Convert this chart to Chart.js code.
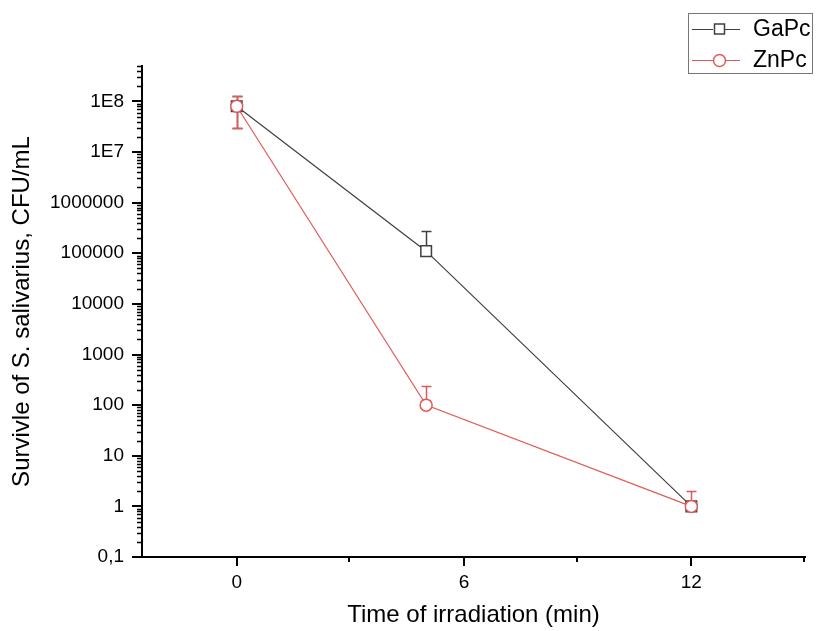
<!DOCTYPE html>
<html>
<head>
<meta charset="utf-8">
<script src="https://cdn.jsdelivr.net/npm/chart.js@4"></script>
<style>
  html, body { margin: 0; padding: 0; background: #fff; }
  #wrap { width: 817px; height: 631px; position: relative; }
</style>
</head>
<body>
<div id="wrap"><canvas id="survival"></canvas></div>
<script>
// Survival data, CFU/mL vs irradiation time
const timePoints = [0, 5, 12];
const gaPcValues = [8e7, 1.1e5, 1];
const znPcValues = [8e7, 100, 1];
const gaPcErrUp = [1.3e8, 2.7e5, null];
const gaPcErrDown = [3e7, null, null];
const znPcErrUp = [1.3e8, 240, 2];
const znPcErrDown = [3e7, null, null];

// Axis ticks
const xMajorTicks = [0, 6, 12];
const xMinorTicks = [3, 9, 15];
const yMajorTicks = [0.1, 1, 10, 100, 1000, 10000, 100000, 1000000, 1e7, 1e8];
const yTickLabels = ['0,1', '1', '10', '100', '1000', '10000', '100000', '1000000', '1E7', '1E8'];

const GA_COLOR = '#404040';
const ZN_COLOR = '#e05a5a';
const FONT = '"Liberation Sans", Arial, sans-serif';

// Origin-style outward ticks (major + minor)
const tickMarks = {
    id: 'tickMarks',
    afterDraw(chart) {
        const ctx = chart.ctx;
        const x = chart.scales.x, y = chart.scales.y;
        const area = chart.chartArea;
        ctx.save();
        ctx.strokeStyle = '#000';
        ctx.lineWidth = 2;
        ctx.beginPath();
        xMajorTicks.forEach(v => {
            const px = Math.round(x.getPixelForValue(v));
            ctx.moveTo(px, area.bottom); ctx.lineTo(px, area.bottom + 9);
        });
        xMinorTicks.forEach(v => {
            const px = Math.round(x.getPixelForValue(v)) - 1;
            ctx.moveTo(px, area.bottom); ctx.lineTo(px, area.bottom + 5);
        });
        yMajorTicks.forEach(v => {
            const py = Math.round(y.getPixelForValue(v));
            ctx.moveTo(area.left, py); ctx.lineTo(area.left - 10, py);
        });
        ctx.stroke();
        ctx.lineWidth = 1.5;
        ctx.beginPath();
        for (let d = -1; d <= 8; d++) {
            for (let m = 2; m <= 9; m++) {
                const v = m * Math.pow(10, d);
                if (v > y.max) break;
                const py = Math.round(y.getPixelForValue(v)) + 0.5;
                ctx.moveTo(area.left, py); ctx.lineTo(area.left - 5, py);
            }
        }
        ctx.stroke();
        ctx.restore();
    }
};

// Error bars with caps, drawn from the marker edge outward
const errorBars = {
    id: 'errorBars',
    afterDatasetsDraw(chart) {
        const ctx = chart.ctx;
        const x = chart.scales.x, y = chart.scales.y;
        const sets = [
            { vals: gaPcValues, up: gaPcErrUp, down: gaPcErrDown, color: GA_COLOR },
            { vals: znPcValues, up: znPcErrUp, down: znPcErrDown, color: ZN_COLOR }
        ];
        ctx.save();
        ctx.lineWidth = 1.5;
        sets.forEach(s => {
            ctx.strokeStyle = s.color;
            timePoints.forEach((t, i) => {
                const px = Math.round(x.getPixelForValue(t)) + 0.5;
                const py = y.getPixelForValue(s.vals[i]);
                ctx.beginPath();
                if (s.up[i] != null) {
                    const ey = Math.round(y.getPixelForValue(s.up[i])) + 0.5;
                    ctx.moveTo(px, py - 6); ctx.lineTo(px, ey);
                    ctx.moveTo(px - 5, ey); ctx.lineTo(px + 5, ey);
                }
                if (s.down[i] != null) {
                    const ey = Math.round(y.getPixelForValue(s.down[i])) + 0.5;
                    ctx.moveTo(px, py + 6); ctx.lineTo(px, ey);
                    ctx.moveTo(px - 5, ey); ctx.lineTo(px + 5, ey);
                }
                ctx.stroke();
            });
        });
        ctx.restore();
    }
};

// Boxed legend in the top right corner
const boxLegend = {
    id: 'boxLegend',
    afterDraw(chart) {
        const ctx = chart.ctx;
        const entries = [
            { label: 'GaPc', color: GA_COLOR, style: 'rect', y: 29 },
            { label: 'ZnPc', color: ZN_COLOR, style: 'circle', y: 60 }
        ];
        ctx.save();
        ctx.strokeStyle = '#777';
        ctx.lineWidth = 1;
        ctx.strokeRect(688.5, 13.5, 124, 60);
        entries.forEach(e => {
            ctx.strokeStyle = e.color;
            ctx.lineWidth = 1;
            ctx.beginPath();
            ctx.moveTo(692, e.y + 0.5); ctx.lineTo(713, e.y + 0.5);
            ctx.moveTo(725, e.y + 0.5); ctx.lineTo(740, e.y + 0.5);
            ctx.stroke();
            ctx.lineWidth = 1.5;
            ctx.fillStyle = '#fff';
            ctx.beginPath();
            if (e.style === 'rect') {
                ctx.rect(714.5, e.y - 5, 10, 10);
            } else {
                ctx.arc(719.5, e.y + 0.5, 6, 0, Math.PI * 2);
            }
            ctx.fill();
            ctx.stroke();
            ctx.fillStyle = '#000';
            ctx.font = '23px ' + FONT;
            ctx.textBaseline = 'middle';
            ctx.fillText(e.label, 753, e.y + 1);
        });
        ctx.restore();
    }
};

const tickFont = { family: FONT, size: 19 };
const titleFont = { family: FONT, size: 24 };

new Chart(document.getElementById('survival'), {
    type: 'line',
    data: {
        datasets: [
            {
                label: 'ZnPc',
                data: timePoints.map((t, i) => ({ x: t, y: znPcValues[i] })),
                borderColor: ZN_COLOR,
                borderWidth: 1.2,
                backgroundColor: '#fff',
                pointStyle: 'circle',
                pointRadius: 6,
                pointBorderWidth: 1.5,
                pointBorderColor: ZN_COLOR,
                pointBackgroundColor: '#fff',
                order: 0
            },
            {
                label: 'GaPc',
                data: timePoints.map((t, i) => ({ x: t, y: gaPcValues[i] })),
                borderColor: GA_COLOR,
                borderWidth: 1.2,
                backgroundColor: '#fff',
                pointStyle: 'rect',
                pointRadius: 7.5,
                pointBorderWidth: 1.5,
                pointBorderColor: GA_COLOR,
                pointBackgroundColor: '#fff',
                order: 1
            }
        ]
    },
    options: {
        responsive: true,
        maintainAspectRatio: false,
        animation: false,
        layout: { padding: { top: 66, right: 12, left: 0, bottom: 0 } },
        plugins: {
            legend: { display: false },
            tooltip: { enabled: false }
        },
        scales: {
            x: {
                type: 'linear',
                min: -2.5,
                max: 15,
                afterBuildTicks: scale => {
                    scale.ticks = xMajorTicks.map(v => ({ value: v }));
                },
                afterFit: scale => { scale.height = 74; },
                ticks: { color: '#000', font: tickFont, padding: 4, maxRotation: 0 },
                grid: { drawOnChartArea: false, tickLength: 10, tickColor: 'rgba(0,0,0,0)' },
                border: { color: '#000', width: 2 },
                title: {
                    display: true,
                    text: 'Time of irradiation (min)',
                    color: '#000',
                    font: titleFont,
                    padding: { top: 0, bottom: 1 }
                }
            },
            y: {
                type: 'logarithmic',
                min: 0.1,
                max: 5e8,
                afterBuildTicks: scale => {
                    scale.ticks = yMajorTicks.map(v => ({ value: v }));
                },
                afterFit: scale => { scale.width = 142; },
                ticks: {
                    color: '#000',
                    font: tickFont,
                    padding: 8,
                    callback: function(value) {
                        const i = yMajorTicks.indexOf(value);
                        return i >= 0 ? yTickLabels[i] : '';
                    }
                },
                grid: { drawOnChartArea: false, tickLength: 10, tickColor: 'rgba(0,0,0,0)' },
                border: { color: '#000', width: 2 },
                title: {
                    display: true,
                    text: 'Survivle of S. salivarius, CFU/mL',
                    color: '#000',
                    font: titleFont,
                    padding: { top: 8, bottom: 0 }
                }
            }
        }
    },
    plugins: [tickMarks, errorBars, boxLegend]
});
</script>
</body>
</html>
